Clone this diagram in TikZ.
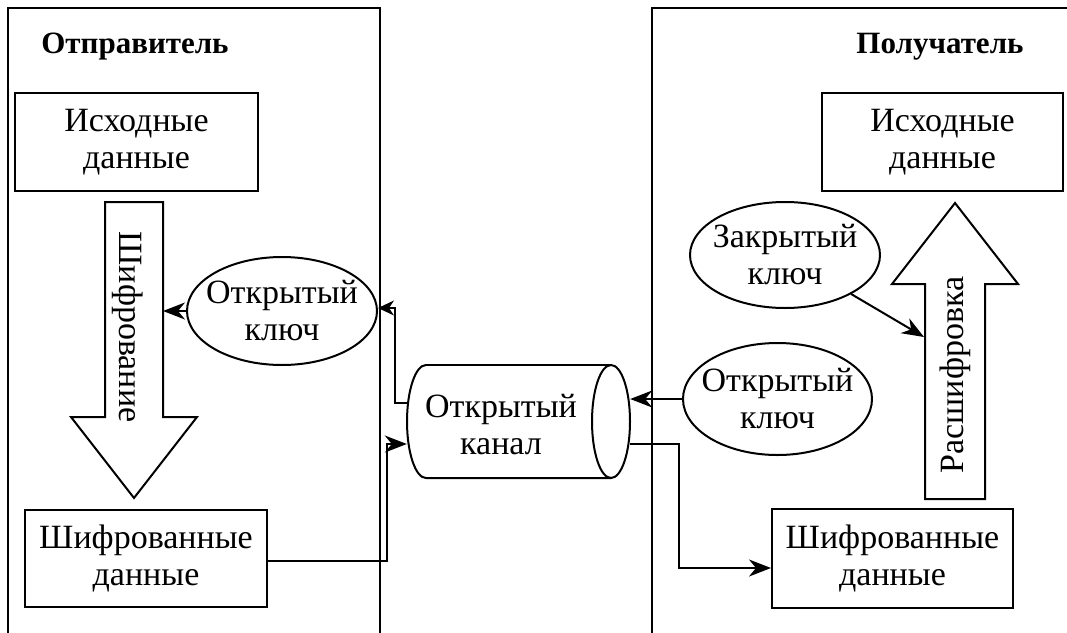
\documentclass[tikz,border=0pt]{standalone}
\usepackage{fontspec}
\setmainfont{Liberation Serif}
\usetikzlibrary{arrows.meta,shapes.geometric}
\begin{document}
\begin{tikzpicture}[x=1pt,y=-1pt,
  every node/.style={font=\fontsize{34}{37}\selectfont, align=center, inner sep=0pt},
  box/.style={draw, line width=2pt, rectangle},
  keyell/.style={draw, line width=2pt, ellipse, inner xsep=-14pt, inner ysep=0pt},
  frame/.style={line width=2pt},
  conn/.style={line width=2pt},
  arr/.style={conn, -{Stealth[length=22pt,width=17pt,inset=7pt]}},
  arrshort/.style={conn, -{Stealth[length=16pt,width=15pt,inset=5pt]}},
  title/.style={font=\fontsize{31}{36}\selectfont\bfseries},
  bigarrow/.style={draw, line width=2pt, fill=white, line join=miter},
  drum/.style={line width=2pt},
]
\useasboundingbox (0,0) rectangle (1067,632);
\fill[white] (0,0) rectangle (1067,632);

% sender and receiver frames (open at the bottom edge)
\draw[frame] (8,660) -- (8,8) -- (380,8) -- (380,660);
\draw[frame] (652,660) -- (652,8) -- (1090,8) -- (1090,660);

% titles
\node[title, anchor=base] (tsend) at (135,53) {Отправитель};
\node[title, anchor=base] (trecv) at (940,53) {Получатель};

% data boxes
\node[box, minimum width=243pt, minimum height=98pt] (src1) at (136.5,142) {Исходные\\данные};
\node[box, minimum width=241pt, minimum height=98pt] (src2) at (942.5,142) {Исходные\\данные};
\node[box, minimum width=242pt, minimum height=97pt] (enc1) at (146,558.5) {Шифрованные\\данные};
\node[box, minimum width=241pt, minimum height=99pt] (enc2) at (892.5,558.5) {Шифрованные\\данные};

% keys
\node[keyell, minimum width=190pt, minimum height=108pt] (pk1) at (282,311) {Открытый\\ключ};
\node[keyell, minimum width=190pt, minimum height=106pt] (sk) at (785,255) {Закрытый\\ключ};
\node[keyell, minimum width=189pt, minimum height=112pt] (pk2) at (777.5,399) {Открытый\\ключ};

% open channel: a drum lying on its side, with its caption
\node[minimum width=223pt, minimum height=113pt] (ch) at (518.5,421.5) {};
\draw[drum] (426,365) -- (611,365);
\draw[drum] (611,478) -- (426,478) arc[start angle=90, end angle=270, x radius=19, y radius=56.5];
\draw[drum] (611,421.5) ellipse[x radius=19, y radius=56.5];
\node (chl) at (501,425) {Открытый\\канал};

% big process arrows
\draw[bigarrow] (105,202) -- (163,202) -- (163,417) -- (197,417) -- (134,498) -- (71,417) -- (105,417) -- cycle;
\draw[bigarrow] (925,499) -- (925,284) -- (892,284) -- (955,203) -- (1018,284) -- (985,284) -- (985,499) -- cycle;
\node[rotate=-90] (lenc) at (128,327) {Шифрование};
\node[rotate=90] (ldec) at (955,375) {Расшифровка};
\coordinate (dR) at (163,307);
\coordinate (uL) at (924,337);

% connectors
\coordinate (a1) at (387,561);
\coordinate (a2) at (387,444);
\draw[arr] (a1 -| enc1.east) -- (a1) -- (a2) -- (a2 -| ch.west);

\coordinate (b1) at (395,403);
\coordinate (b2) at (395,308);
\draw[arrshort] (b1 -| ch.west) -- (b1) -- (b2) -- (b2 -| pk1.east);

\draw[arr] (pk1.west) -- (pk1.west -| dR);

\draw[arr] (sk) -- (uL);

\draw[arr] (pk2.west) -- (pk2.west -| ch.east);

\coordinate (c1) at (679,444);
\coordinate (c2) at (679,568);
\draw[arr] (c1 -| ch.east) -- (c1) -- (c2) -- (c2 -| enc2.west);
\end{tikzpicture}
\end{document}
